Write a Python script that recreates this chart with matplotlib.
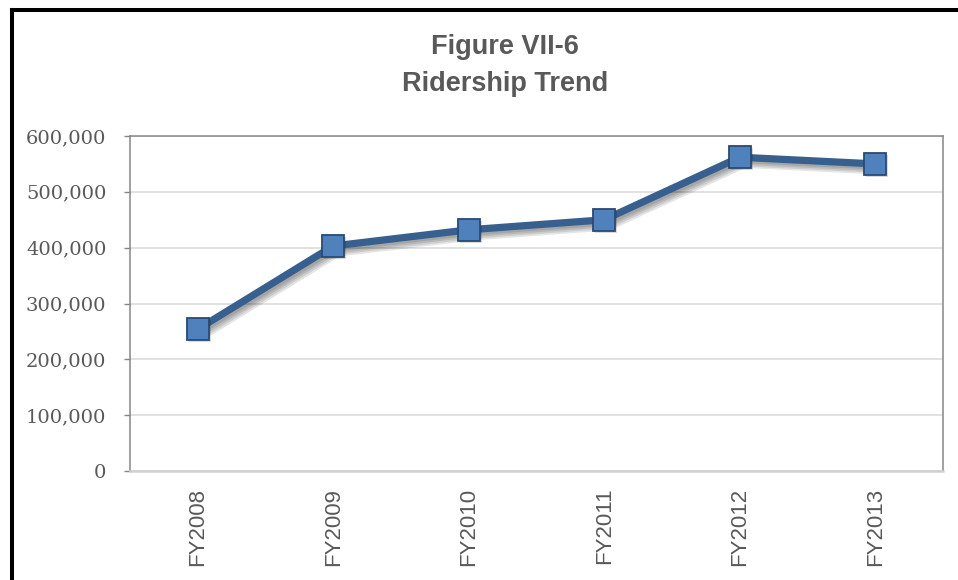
import matplotlib
matplotlib.use("Agg")
import matplotlib.pyplot as plt
import matplotlib.patheffects as pe
from matplotlib.lines import Line2D
from matplotlib.ticker import FuncFormatter, MultipleLocator

# Annual ridership by fiscal year
years = ["FY2008", "FY2009", "FY2010", "FY2011", "FY2012", "FY2013"]
riders = [254000, 403000, 432000, 450000, 562000, 550000]
title_lines = ["Figure VII-6", "Ridership Trend"]

W, H, DPI = 958, 580, 100
fig = plt.figure(figsize=(W / DPI, H / DPI), dpi=DPI)
fig.patch.set_facecolor("white")

ax = fig.add_axes([130 / W, 1 - 471 / H, (943 - 130) / W, (471 - 136) / H])

x = list(range(len(years)))

# Connecting line with a soft drop shadow built from a few faint layers
line, = ax.plot(x, riders, color="#37608f", lw=5.2,
                solid_joinstyle="round", solid_capstyle="round", zorder=3)
soft_shadow = [
    pe.SimpleLineShadow(offset=(1.5 + 0.6 * i, -1.5 - 0.6 * i),
                        shadow_color="black", alpha=0.10,
                        linewidth=5.2 + 1.2 * i)
    for i in range(4)
]
line.set_path_effects(soft_shadow + [pe.Normal()])

# Square markers on top
pts, = ax.plot(x, riders, ls="none", marker="s", markersize=16,
               markerfacecolor="#4f81bd", markeredgecolor="#2a4a72",
               markeredgewidth=1.3, zorder=4)
pts.set_path_effects([
    pe.SimplePatchShadow(offset=(1.5, -1.5), shadow_rgbFace="black", alpha=0.15),
    pe.Normal(),
])

ax.set_xlim(-0.5, len(years) - 0.5)
ax.set_ylim(0, 600000)
ax.yaxis.set_major_locator(MultipleLocator(100000))
ax.yaxis.set_major_formatter(FuncFormatter(lambda v, p: f"{int(v):,}"))
ax.set_xticks(x)
ax.set_xticklabels(years, rotation=90, fontfamily="Liberation Sans",
                   fontsize=16, color="#595959")
for lbl in ax.get_yticklabels():
    lbl.set_fontfamily("DejaVu Serif")
    lbl.set_fontsize(14)
    lbl.set_color("#595959")

ax.tick_params(axis="y", length=4, width=1, color="#868686", pad=13)
ax.tick_params(axis="x", length=0, pad=12)

ax.grid(axis="y", color="#d9d9d9", lw=1.1)
ax.set_axisbelow(True)
for side in ("left", "top", "right"):
    ax.spines[side].set_color("#868686")
    ax.spines[side].set_linewidth(1.1)
ax.spines["bottom"].set_color("#d0d0d0")
ax.spines["bottom"].set_linewidth(1.8)

# Title, two centered lines
for ypix, txt in zip((47, 84), title_lines):
    fig.text(505 / W, 1 - ypix / H, txt, ha="center", va="center",
             fontfamily="Liberation Sans", fontweight="bold", fontsize=19.5,
             color="#595959")

# Outer black frame (left and top edges)
fx = 12 / W
fy = 1 - 9.5 / H
fig.add_artist(Line2D([fx, fx], [-0.05, fy], transform=fig.transFigure,
                      color="black", lw=2.9, solid_capstyle="projecting"))
fig.add_artist(Line2D([fx, 1.05], [fy, fy], transform=fig.transFigure,
                      color="black", lw=2.9, solid_capstyle="projecting"))

fig.savefig("out.png", dpi=DPI)
